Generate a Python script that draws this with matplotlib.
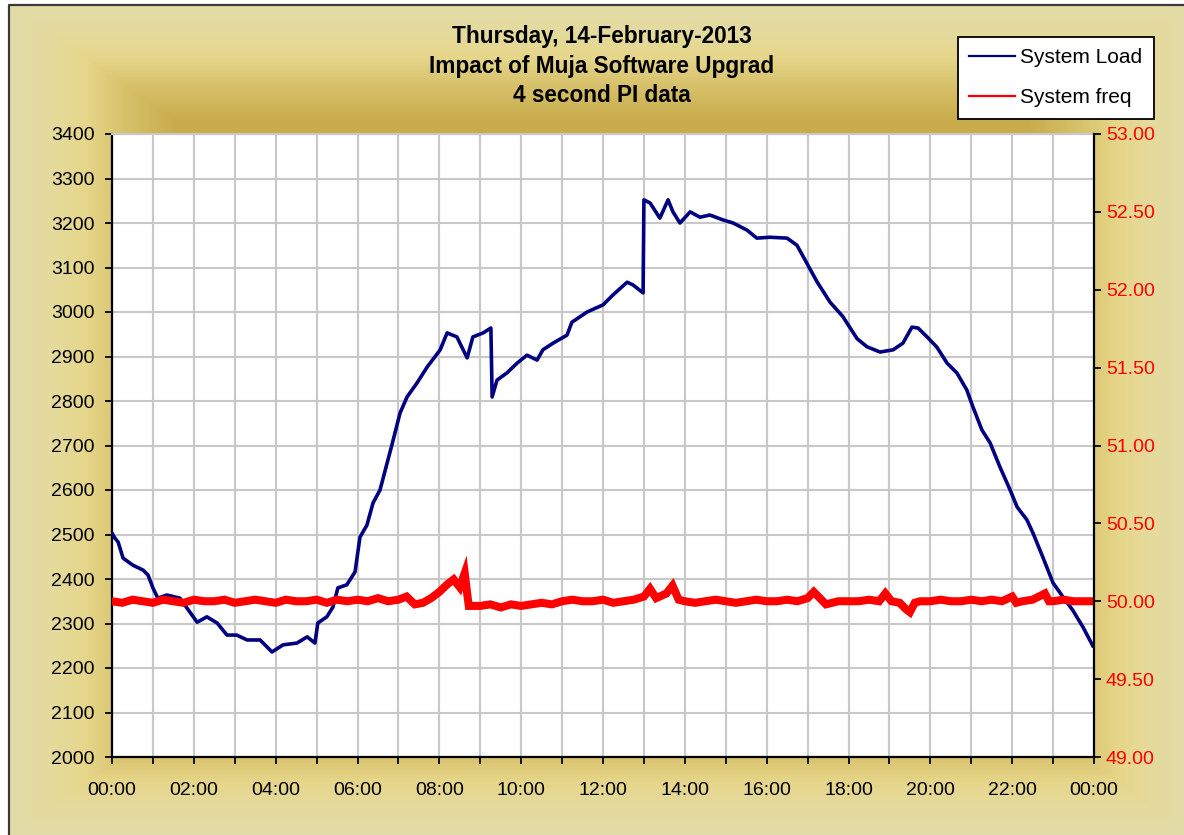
import numpy as np
import matplotlib
matplotlib.use("Agg")
import matplotlib.pyplot as plt
from matplotlib.lines import Line2D

plt.rcParams['font.family'] = ['Liberation Sans', 'DejaVu Sans']

# ---------------- data ----------------
title_lines = ["Thursday, 14-February-2013", "Impact of Muja Software Upgrad", "4 second PI data"]

load_hours = [0.00, 0.07, 0.15, 0.27, 0.51, 0.76, 0.88, 1.00, 1.12, 1.34, 1.66, 1.83, 2.08, 2.32,
              2.57, 2.81, 3.05, 3.30, 3.62, 3.91, 4.18, 4.52, 4.77, 4.96, 5.03, 5.25, 5.40, 5.52,
              5.74, 5.94, 6.06, 6.23, 6.38, 6.55, 6.84, 7.04, 7.21, 7.45, 7.70, 8.02, 8.19, 8.43,
              8.55, 8.68, 8.82, 9.07, 9.26, 9.29, 9.41, 9.65, 9.90, 10.14, 10.39, 10.53, 10.78,
              11.12, 11.24, 11.61, 12.00, 12.24, 12.59, 12.73, 12.98, 13.00, 13.15, 13.39, 13.59,
              13.71, 13.88, 14.13, 14.37, 14.61, 14.93, 15.18, 15.52, 15.76, 16.08, 16.50, 16.74,
              16.98, 17.23, 17.55, 17.86, 18.21, 18.45, 18.77, 19.09, 19.33, 19.55, 19.70, 19.92,
              20.16, 20.41, 20.65, 20.89, 21.04, 21.26, 21.46, 21.70, 21.95, 22.12, 22.36, 22.51,
              22.75, 23.00, 23.24, 23.48, 23.73, 23.97]
load_mw = [2503, 2492, 2483, 2447, 2431, 2420, 2409, 2380, 2357, 2364, 2357, 2335, 2303, 2315,
           2301, 2274, 2274, 2263, 2263, 2236, 2252, 2256, 2270, 2256, 2301, 2315, 2337, 2380,
           2387, 2416, 2494, 2521, 2571, 2600, 2701, 2773, 2809, 2840, 2876, 2915, 2953, 2944,
           2921, 2897, 2944, 2953, 2964, 2809, 2847, 2863, 2885, 2903, 2892, 2915, 2930,
           2948, 2977, 3000, 3016, 3038, 3067, 3061, 3043, 3252, 3245, 3211, 3252,
           3225, 3200, 3225, 3213, 3218, 3207, 3200, 3184, 3166, 3168, 3166, 3150,
           3110, 3068, 3022, 2990, 2940, 2922, 2910, 2915, 2930, 2966, 2964, 2944,
           2921, 2885, 2863, 2825, 2787, 2735, 2706, 2652, 2600, 2562, 2533, 2503,
           2449, 2391, 2360, 2330, 2292, 2250]

freq_hours = [0.00, 0.25, 0.50, 0.75, 1.00, 1.25, 1.50, 1.75, 2.00, 2.25, 2.50, 2.75, 3.00, 3.25,
              3.50, 3.75, 4.00, 4.25, 4.50, 4.75, 5.00, 5.25, 5.50, 5.75, 6.00, 6.25, 6.50, 6.75,
              7.00, 7.20, 7.40, 7.60, 7.80, 8.00, 8.20, 8.35, 8.50, 8.62, 8.68, 8.72, 9.00, 9.25,
              9.50, 9.75, 10.00, 10.25, 10.50, 10.75, 11.00, 11.25, 11.50, 11.75, 12.00, 12.25,
              12.50, 12.75, 13.00, 13.15, 13.30, 13.55, 13.70, 13.85, 14.00, 14.25, 14.50, 14.75,
              15.00, 15.25, 15.50, 15.75, 16.00, 16.25, 16.50, 16.75, 17.00, 17.15, 17.30, 17.45,
              17.75, 18.00, 18.25, 18.50, 18.75, 18.90, 19.05, 19.25, 19.40, 19.50, 19.62, 19.75,
              20.00, 20.25, 20.50, 20.75, 21.00, 21.25, 21.50, 21.75, 22.00, 22.10, 22.25, 22.50,
              22.80, 22.90, 23.00, 23.25, 23.50, 23.75, 24.00]
freq_hz = [50.00, 49.99, 50.01, 50.00, 49.99, 50.01, 50.00, 49.99, 50.01, 50.00, 50.00, 50.01, 49.99, 50.00,
           50.01, 50.00, 49.99, 50.01, 50.00, 50.00, 50.01, 49.99, 50.01, 50.00, 50.01, 50.00, 50.02, 50.00,
           50.01, 50.03, 49.98, 49.99, 50.02, 50.06, 50.11, 50.14, 50.09, 50.18, 50.05, 49.97, 49.97, 49.98,
           49.96, 49.98, 49.97, 49.98, 49.99, 49.98, 50.00, 50.01, 50.00, 50.00, 50.01, 49.99,
           50.00, 50.01, 50.03, 50.08, 50.02, 50.05, 50.10, 50.01, 50.00, 49.99, 50.00, 50.01,
           50.00, 49.99, 50.00, 50.01, 50.00, 50.00, 50.01, 50.00, 50.02, 50.06, 50.02, 49.98,
           50.00, 50.00, 50.00, 50.01, 50.00, 50.05, 50.00, 49.99, 49.95, 49.93, 49.99, 50.00,
           50.00, 50.01, 50.00, 50.00, 50.01, 50.00, 50.01, 50.00, 50.03, 49.99, 50.00, 50.01,
           50.05, 50.00, 50.00, 50.01, 50.00, 50.00, 50.00]

x_tick_labels = ["00:00", "02:00", "04:00", "06:00", "08:00", "10:00", "12:00",
                 "14:00", "16:00", "18:00", "20:00", "22:00", "00:00"]
left_ticks = list(range(2000, 3401, 100))
right_ticks = [49.0, 49.5, 50.0, 50.5, 51.0, 51.5, 52.0, 52.5, 53.0]

# ---------------- figure ----------------
W, H = 1184, 835
fig = plt.figure(figsize=(W / 100, H / 100), dpi=100)
fig.patch.set_facecolor('white')

# background gradient (chart area)
bg = fig.add_axes([0, 0, 1, 1], zorder=-10)
cols = np.arange(W) + 0.5
rows = np.arange(H) + 0.5
cx, cy, hw, hh = 602.0, 420.0, 593.0, 416.0
tx = np.abs(cols - cx) / hw
ty = np.abs(rows - cy) / hh
t = np.maximum(tx[None, :], ty[:, None])
stops = [0.0, 0.72, 0.80, 0.87, 0.92, 1.0]
rgb = [(200, 170, 70), (201, 172, 76), (214, 192, 105), (230, 214, 138), (229, 218, 155), (226, 220, 170)]
img = np.zeros((H, W, 3))
for k in range(3):
    img[..., k] = np.interp(t, stops, [c[k] for c in rgb]) / 255.0
img[:5, :, :] = 1.0
img[:, :9, :] = 1.0
bg.imshow(img, extent=[0, W, H, 0], aspect='auto', interpolation='bilinear')
bg.plot([9, 9, W + 5], [H + 5, 5, 5], color='#3a3a3a', lw=1.6)
bg.set_xlim(0, W)
bg.set_ylim(H, 0)
bg.axis('off')

L, R, T, B = 112, 1094, 134, 757
ax = fig.add_axes([L / W, 1 - B / H, (R - L) / W, (B - T) / H])
ax.set_facecolor('white')

ax.plot(load_hours, load_mw, color='#000080', lw=2.6, zorder=3)
ax.set_xlim(0, 24)
ax.set_ylim(2000, 3400)
ax.set_yticks(left_ticks)
ax.set_xticks(range(0, 25))
ax.set_xticklabels([x_tick_labels[i // 2] if i % 2 == 0 else "" for i in range(25)])
ax.grid(True, color='#c8c8c8', lw=1.5, zorder=0)
ax.set_axisbelow(True)
ax.tick_params(axis='both', direction='out', length=5, width=1.3, labelsize=14, colors='black')
ax.tick_params(axis='y', pad=7.5)
ax.tick_params(axis='x', pad=13)
for s in ['left', 'bottom']:
    ax.spines[s].set_linewidth(1.6)
    ax.spines[s].set_color('black')
ax.spines['top'].set_color('#c8c8c8')
ax.spines['top'].set_linewidth(1.5)
ax.spines['right'].set_visible(False)

ax2 = ax.twinx()
ax2.plot(freq_hours, freq_hz, color='#ff0000', lw=5.8, zorder=2, solid_joinstyle='miter')
ax2.set_ylim(49, 53)
ax2.set_yticks(right_ticks)
ax2.set_yticklabels([f"{v:.2f}" for v in right_ticks])
ax2.tick_params(axis='y', direction='out', length=5, width=1.3, labelsize=14,
                colors='black', labelcolor='#ff0000', pad=3.5)
ax2.spines['right'].set_linewidth(1.6)
ax2.spines['right'].set_color('black')
for s in ['left', 'bottom', 'top']:
    ax2.spines[s].set_visible(False)

# title
for i, line in enumerate(title_lines):
    fig.text(602 / W, 1 - (36 + 30 * i) / H, line, ha='center', va='center',
             fontsize=16.3, fontweight='bold', color='black')

# legend
handles = [Line2D([], [], color='#000080', lw=1.6), Line2D([], [], color='#ff0000', lw=1.6)]
leg = fig.legend(handles, ["System Load", "System freq"], loc='upper left',
                 bbox_to_anchor=(958 / W, 1 - 37 / H), bbox_transform=fig.transFigure,
                 borderaxespad=0, fontsize=15, frameon=True, fancybox=False,
                 handlelength=2.2, handletextpad=0.25, labelspacing=1.0, borderpad=0.55)
leg.get_frame().set_edgecolor('black')
leg.get_frame().set_linewidth(1.3)
leg.get_frame().set_facecolor('white')
leg.get_frame().set_alpha(1)

fig.savefig('out.png', dpi=100, facecolor=fig.get_facecolor())
